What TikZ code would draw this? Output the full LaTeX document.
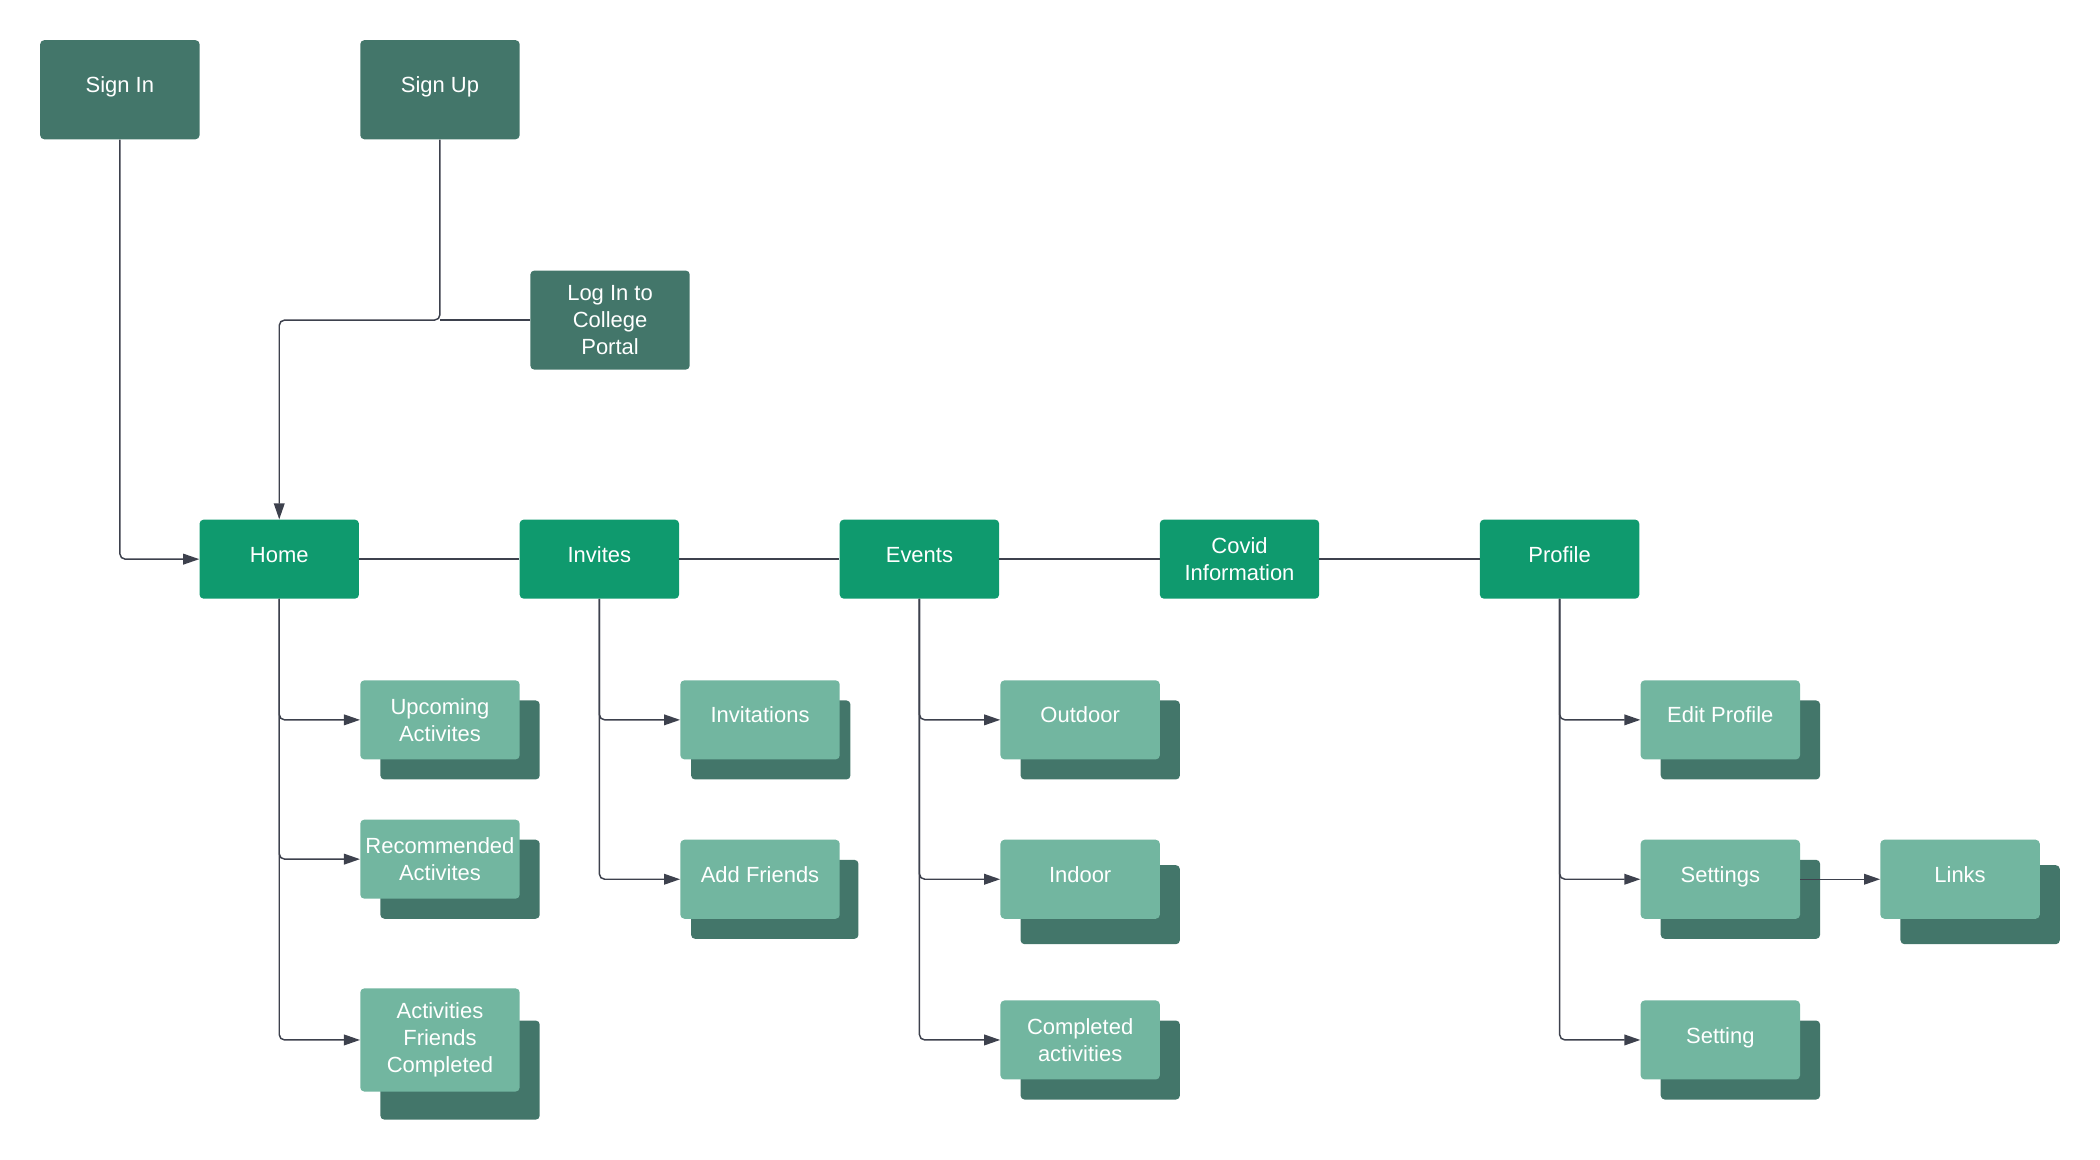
\documentclass[tikz,border=0pt]{standalone}
\usepackage{fontspec}
\setmainfont{Liberation Sans}
\usetikzlibrary{arrows.meta,calc}
\definecolor{dk}{HTML}{43766A}
\definecolor{md}{HTML}{0F9A6E}
\definecolor{lt}{HTML}{72B6A0}
\definecolor{ln}{HTML}{3D414D}
\begin{document}
\begin{tikzpicture}[x=1pt,y=-1pt,
 box/.style={rectangle, rounded corners=3pt, inner sep=0pt, text=white, align=center,
   font=\fontsize{16.4}{20}\selectfont, minimum width=119pt, minimum height=59pt},
 one/.style={text height=0.72em, text depth=0.26em},
 dkbox/.style={box, fill=dk},
 mdbox/.style={box, fill=md},
 ltbox/.style={box, fill=lt},
 conn/.style={draw=ln, line width=1.1pt, rounded corners=4pt, -{Triangle[length=12pt,width=8pt]}},
 link/.style={draw=ln, line width=1.1pt}]
\useasboundingbox (0,0) rectangle (1568,866);
% top
\node[dkbox, one, minimum height=74pt] (signin) at (89.5,67) {Sign In};
\node[dkbox, one, minimum height=74pt] (signup) at (328.5,67) {Sign Up};
\node[dkbox, minimum height=74pt] (login) at (455.5,239) {Log In to\\College\\Portal};
% main row
\node[mdbox, one] (home) at (208.5,417.5) {Home};
\node[mdbox, one] (inv) at (447.5,417.5) {Invites};
\node[mdbox, one] (ev) at (686.5,417.5) {Events};
\node[mdbox] (cov) at (925.5,417.5) {Covid\\Information};
\node[mdbox, one] (prof) at (1164.5,417.5) {Profile};
% children: back boxes
\node[dkbox] (upB) at (343.5,552.5) {};
\node[dkbox] (recB) at (343.5,656.5) {};
\node[dkbox, minimum height=74pt] (actB) at (343.5,799) {};
\node[dkbox] (invtB) at (575.5,552.5) {};
\node[dkbox, minimum width=125pt] (addB) at (578.5,671.5) {};
\node[dkbox] (outB) at (821.5,552.5) {};
\node[dkbox] (indB) at (821.5,675.5) {};
\node[dkbox] (compB) at (821.5,791.5) {};
\node[dkbox] (editB) at (1299.5,552.5) {};
\node[dkbox] (setsB) at (1299.5,671.5) {};
\node[dkbox] (linkB) at (1478.5,675.5) {};
\node[dkbox] (setB) at (1299.5,791.5) {};
% children: front boxes
\node[ltbox] (upF) at (328.5,537.5) {Upcoming\\Activites};
\node[ltbox] (recF) at (328.5,641.5) {Recommended\\Activites};
\node[ltbox, minimum height=77pt] (actF) at (328.5,776.5) {Activities\\Friends\\Completed};
\node[ltbox, one] (invtF) at (567.5,537.5) {Invitations};
\node[ltbox, one] (addF) at (567.5,656.5) {Add Friends};
\node[ltbox, one] (outF) at (806.5,537.5) {Outdoor};
\node[ltbox, one] (indF) at (806.5,656.5) {Indoor};
\node[ltbox] (compF) at (806.5,776.5) {Completed\\activities};
\node[ltbox, one] (editF) at (1284.5,537.5) {Edit Profile};
\node[ltbox, one] (setsF) at (1284.5,656.5) {Settings};
\node[ltbox, one] (linkF) at (1463.5,656.5) {Links};
\node[ltbox, one] (setF) at (1284.5,776.5) {Setting};
% connectors top
\coordinate (j) at (signup.south |- login.west);
\draw[conn] (signin.south) |- (home.west);
\draw[conn] (signup.south) -- (j) -| (home.north);
\draw[link] (login.west) -- (j);
% main row lines
\draw[link] (home.east) -- (inv.west);
\draw[link] (inv.east) -- (ev.west);
\draw[link] (ev.east) -- (cov.west);
\draw[link] (cov.east) -- (prof.west);
% children connectors
\draw[conn] (home.south) |- (upF.west);
\draw[conn] (home.south) |- (recF.west);
\draw[conn] (home.south) |- (actF.west);
\draw[conn] (inv.south) |- (invtF.west);
\draw[conn] (inv.south) |- (addF.west);
\draw[conn] (ev.south) |- (outF.west);
\draw[conn] (ev.south) |- (indF.west);
\draw[conn] (ev.south) |- (compF.west);
\draw[conn] (prof.south) |- (editF.west);
\draw[conn] (prof.south) |- (setsF.west);
\draw[conn] (prof.south) |- (setF.west);
\draw[conn] (setsF.east) -- (linkF.west);
\end{tikzpicture}
\end{document}
